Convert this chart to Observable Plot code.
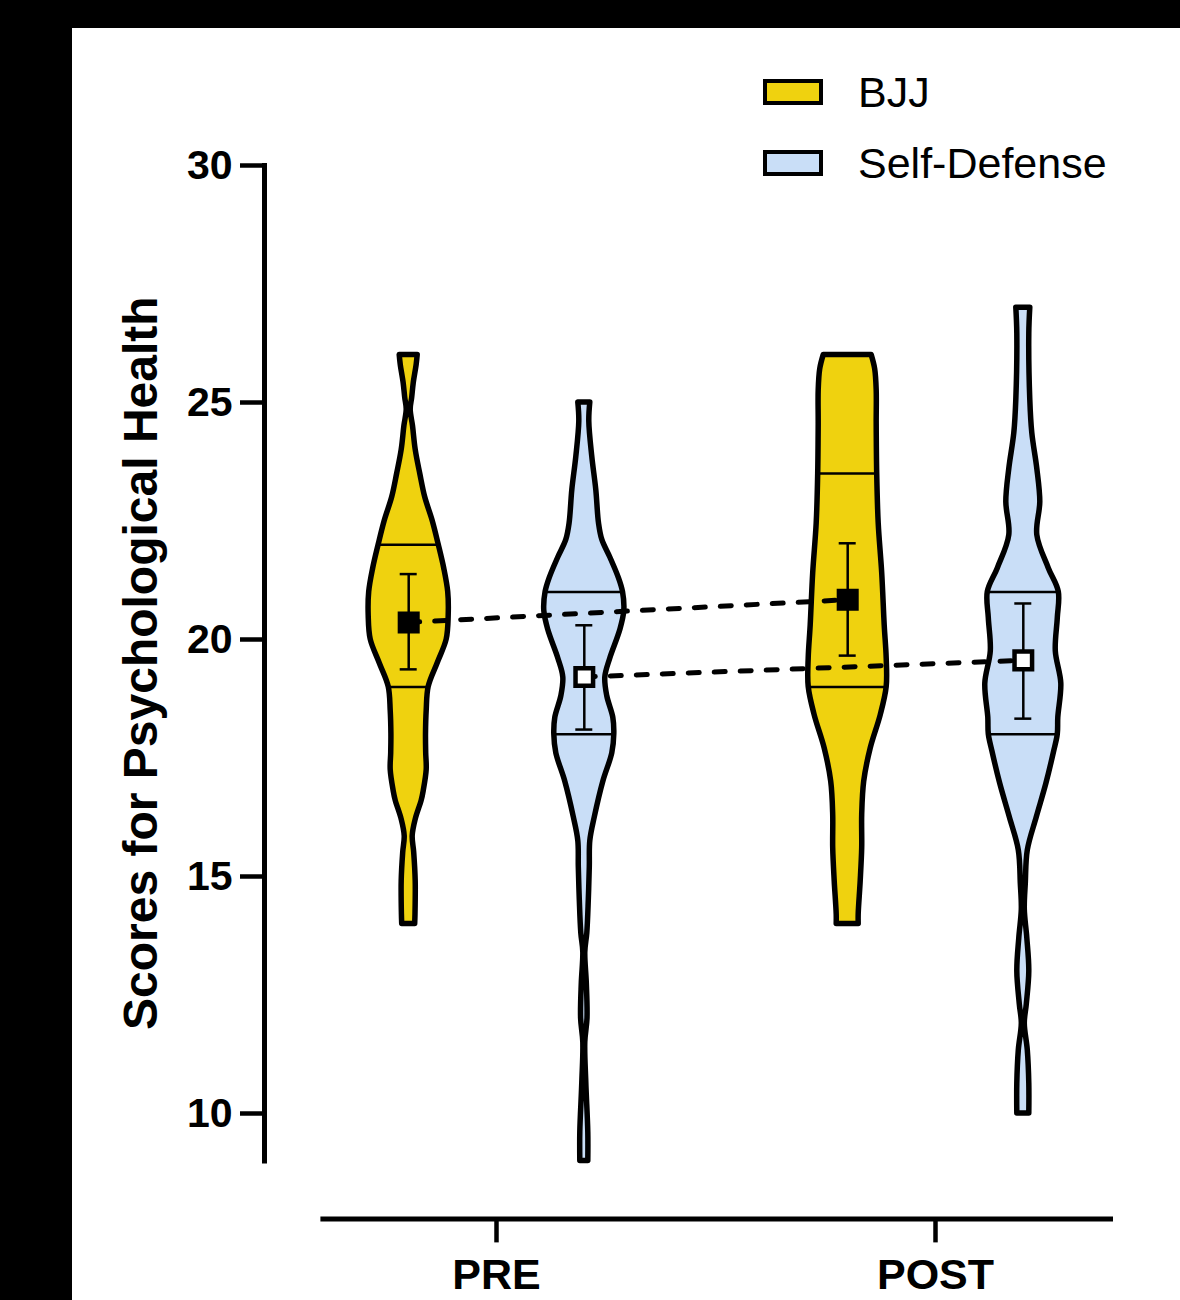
<!DOCTYPE html>
<html>
<head>
<meta charset="utf-8">
<script src="https://cdn.jsdelivr.net/npm/d3@7"></script>
<script src="https://cdn.jsdelivr.net/npm/@observablehq/plot@0.6"></script>
<style>
  html, body { margin: 0; padding: 0; background: #000; }
  #panel { position: absolute; left: 72px; top: 28px; width: 1108px; height: 1272px; background: #fff; overflow: hidden; }
  #chart svg { display: block; }
  .lg-sw { position: absolute; box-sizing: border-box; width: 60px; height: 26px; border: 4.5px solid #000; }
  .lg-tx { position: absolute; height: 42px; line-height: 42px; font-family: "Liberation Sans", Arial, sans-serif; font-size: 43px; color: #000; white-space: nowrap; }
</style>
</head>
<body>
<div id="panel">
  <div id="chart"></div>
  <div id="legend"></div>
</div>
<script>
// ---------------- data ----------------
const timepoints = ["PRE", "POST"];
const groups = ["BJJ", "Self-Defense"];
const groupColors = ["#EFD20F", "#C9DEF7"];
const yTicks = [10, 15, 20, 25, 30];
const yLabel = "Scores for Psychological Health";

// violin outlines: [score, relative half-width]
const violinBJJPre = [
  [26.0, 9], [25.8, 8], [25.4, 5], [25.1, 3.5], [24.85, 2], [24.5, 4.3], [24.0, 7],
  [23.5, 11.5], [23.0, 16.5], [22.5, 24], [22.0, 30], [21.5, 35.5], [21.0, 39.5],
  [20.5, 40], [20.0, 38], [19.5, 29], [19.0, 20], [18.5, 18], [18.0, 17.3],
  [17.6, 17.5], [17.25, 18], [16.8, 15], [16.6, 13], [16.2, 7], [15.85, 4],
  [15.5, 5.5], [14.9, 7], [14.2, 6.8], [14.0, 6.5]
];
const violinSDPre = [
  [25.0, 6], [24.6, 5], [23.85, 8], [23.15, 12], [22.45, 14.7], [22.1, 18],
  [21.73, 26], [21.3, 34.5], [21.0, 38.7], [20.6, 40], [20.2, 36], [19.6, 26],
  [19.2, 21], [18.8, 23], [18.35, 29], [18.0, 30], [17.6, 28], [17.0, 19],
  [16.25, 10.5], [15.75, 6], [15.2, 5.5], [14.5, 4.5], [13.8, 3], [13.4, 1],
  [12.75, 2.5], [12.0, 3.2], [11.5, 1], [10.65, 2], [9.6, 4], [9.0, 4]
];
const violinBJJPost = [
  [26.0, 24], [25.7, 27.5], [25.25, 29], [24.55, 29], [23.5, 29.5], [22.45, 31],
  [21.4, 34.5], [20.3, 37], [19.6, 39], [19.0, 39], [18.4, 33], [17.7, 23],
  [17.0, 16.5], [16.3, 14.5], [15.6, 14.5], [14.9, 13], [14.2, 11], [14.0, 11]
];
const violinSDPost = [
  [27.0, 7], [26.45, 6], [25.05, 7], [24.35, 9], [23.6, 14], [22.9, 17], [22.2, 14],
  [21.5, 25.5], [21.0, 35.5], [20.45, 34.5], [19.75, 32.5], [19.07, 38], [18.35, 35],
  [18.0, 34.5], [17.65, 31], [16.95, 23], [16.25, 13.5], [15.55, 4.5], [14.85, 2.5],
  [14.3, 1.5], [13.7, 4], [13.0, 6], [12.3, 3.5], [11.9, 1.5], [11.33, 4.5],
  [10.63, 6], [10.0, 6]
];

// means and error bars (PRE, POST)
const meanBJJ = [20.36, 20.84];
const lowBJJ = [19.37, 19.66];
const highBJJ = [21.38, 22.03];
const meanSD = [19.21, 19.56];
const lowSD = [18.10, 18.33];
const highSD = [20.30, 20.76];

// quartile lines (PRE, POST)
const q1BJJ = [19, 19];
const q3BJJ = [22, 23.5];
const q1SD = [18, 18];
const q3SD = [21, 21];

// ---------------- layout ----------------
const W = 1108, H = 1272;
const mLeft = 192, mRight = 67, mTop = 137, mBottom = 139.6;
const pxPerCat = 439;
const xLo = 1 - (424 - mLeft) / pxPerCat;
const xHi = 2 + (W - mRight - 863) / pxPerCat;
const groupOffset = [-0.2, 0.2];
const widthUnit = 1 / pxPerCat;
const capHalf = 8.5 / pxPerCat;
const xAxisStart = 0.6;

const profiles = [
  [violinBJJPre, violinSDPre],
  [violinBJJPost, violinSDPost]
];
const means = [meanBJJ, meanSD], lows = [lowBJJ, lowSD], highs = [highBJJ, highSD];
const q1s = [q1BJJ, q1SD], q3s = [q3BJJ, q3SD];

function widthAt(profile, v) {
  for (let i = 0; i < profile.length - 1; i++) {
    const [v0, w0] = profile[i], [v1, w1] = profile[i + 1];
    if ((v <= v0 && v >= v1) || (v >= v0 && v <= v1)) {
      const t = v0 === v1 ? 0 : (v - v0) / (v1 - v0);
      return w0 + t * (w1 - w0);
    }
  }
  return 0;
}

const violinRows = [];
const quartRows = [];
const statRows = [];
timepoints.forEach((t, ti) => {
  groups.forEach((g, gi) => {
    const pos = ti + 1 + groupOffset[gi];
    const id = t + "-" + g;
    profiles[ti][gi].forEach(([v, w]) => violinRows.push({ id, group: g, pos, v, w }));
    [q1s[gi][ti], q3s[gi][ti]].forEach(q => {
      const w = widthAt(profiles[ti][gi], q) - 1.5;
      quartRows.push({ pos, q, w });
    });
    statRows.push({ group: g, gi, pos, mean: means[gi][ti], lo: lows[gi][ti], hi: highs[gi][ti] });
  });
});

const chart = Plot.plot({
  width: W,
  height: H,
  marginLeft: mLeft,
  marginRight: mRight,
  marginTop: mTop,
  marginBottom: mBottom,
  style: { fontFamily: '"Liberation Sans", Arial, sans-serif', background: "white", color: "black", overflow: "visible" },
  x: { domain: [xLo, xHi] },
  y: { domain: [9, 30] },
  color: { domain: groups, range: groupColors },
  marks: [
    Plot.areaX(violinRows, {
      y: "v",
      x1: d => d.pos - d.w * widthUnit,
      x2: d => d.pos + d.w * widthUnit,
      z: "id",
      fill: "group",
      stroke: "black",
      strokeWidth: 5.5,
      strokeLinejoin: "round",
      curve: "catmull-rom"
    }),
    Plot.ruleY(quartRows, {
      y: "q",
      x1: d => d.pos - d.w * widthUnit,
      x2: d => d.pos + d.w * widthUnit,
      stroke: "black",
      strokeWidth: 2.5
    }),
    Plot.line(statRows, {
      x: "pos", y: "mean", z: "group",
      stroke: "black", strokeWidth: 5,
      strokeDasharray: "11,15", strokeLinecap: "round"
    }),
    Plot.ruleX(statRows, { x: "pos", y1: "lo", y2: "hi", stroke: "black", strokeWidth: 2.5 }),
    Plot.ruleY(statRows, { y: "lo", x1: d => d.pos - capHalf, x2: d => d.pos + capHalf, stroke: "black", strokeWidth: 2.5 }),
    Plot.ruleY(statRows, { y: "hi", x1: d => d.pos - capHalf, x2: d => d.pos + capHalf, stroke: "black", strokeWidth: 2.5 }),
    Plot.dot(statRows.filter(d => d.gi === 0), { x: "pos", y: "mean", symbol: "square", r: 11.3, fill: "black", stroke: "black", strokeWidth: 2 }),
    Plot.dot(statRows.filter(d => d.gi === 1), { x: "pos", y: "mean", symbol: "square", r: 9.9, fill: "white", stroke: "black", strokeWidth: 4.5 }),
    // axes
    Plot.frame({ anchor: "left", stroke: "black", strokeWidth: 5 }),
    Plot.axisY({
      ticks: yTicks, tickSize: 24, tickPadding: 8, strokeWidth: 4.5,
      fontSize: 41, fontWeight: "bold", label: null, tickFormat: d => String(d)
    }),
    Plot.ruleY([9], { x1: xAxisStart, x2: xHi, dy: 58, stroke: "black", strokeWidth: 5 }),
    Plot.axisX({
      ticks: [1, 2], tickFormat: d => timepoints[d - 1], tickSize: 24, tickPadding: 16,
      dy: 58, strokeWidth: 4.5, fontSize: 43, fontWeight: "bold", label: null
    }),
    Plot.text([yLabel], {
      text: d => d, frameAnchor: "left", dx: -123, rotate: -90,
      fontSize: 48, fontWeight: "bold", lineAnchor: "middle", textAnchor: "middle"
    })
  ]
});
document.getElementById("chart").appendChild(chart);

// legend
const legend = document.getElementById("legend");
const swTops = [51, 122];
groups.forEach((g, i) => {
  const sw = document.createElement("div");
  sw.className = "lg-sw";
  sw.style.left = "691px";
  sw.style.top = swTops[i] + "px";
  sw.style.background = groupColors[i];
  legend.appendChild(sw);
  const tx = document.createElement("div");
  tx.className = "lg-tx";
  tx.style.left = "786px";
  tx.style.top = (swTops[i] + 13 - 21) + "px";
  tx.textContent = g;
  legend.appendChild(tx);
});
</script>
</body>
</html>
